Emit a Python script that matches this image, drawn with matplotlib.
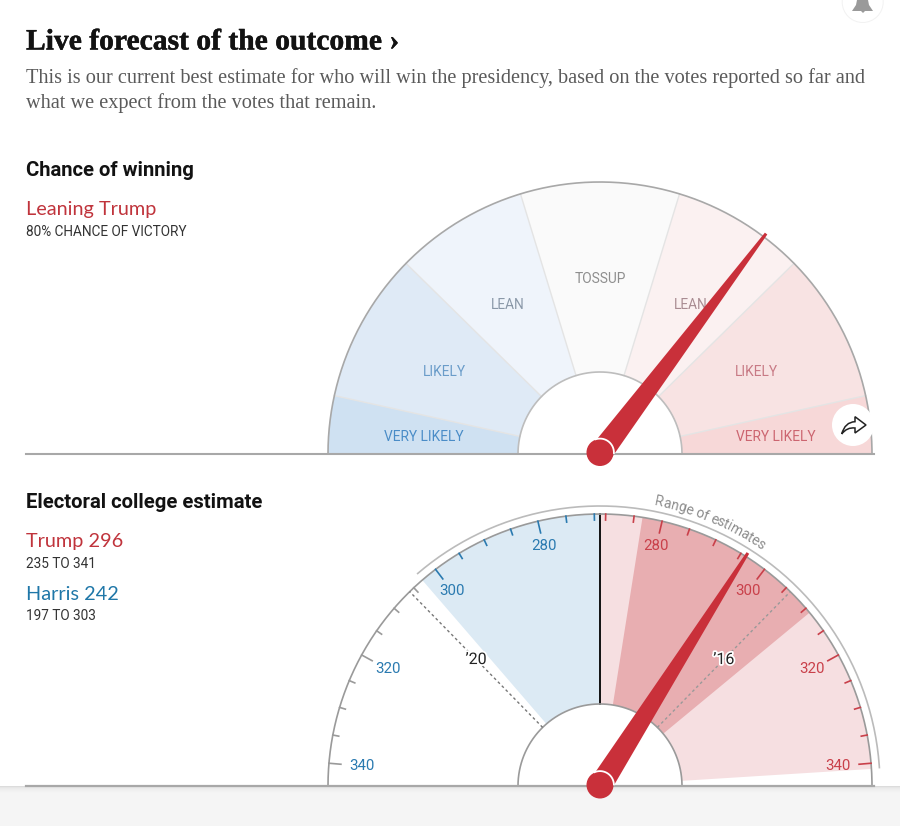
import numpy as np
import matplotlib
matplotlib.use('Agg')
import matplotlib.pyplot as plt
import matplotlib.patheffects as pe
from matplotlib.patches import Circle, PathPatch, Polygon, Rectangle
from matplotlib.path import Path

W, H = 900, 826

# top gauge, band edges in degrees clockwise from the left end
band_edges = [0, 12.4, 44.5, 73, 107, 135.5, 167.6, 180]
band_colors = ['#cfe1f2', '#dfeaf6', '#eff4fb', '#fafafa', '#fbf1f1', '#f8e3e3', '#f7d8d8']
band_labels = ['VERY LIKELY', 'LIKELY', 'LEAN', 'TOSSUP', 'LEAN', 'LIKELY', 'VERY LIKELY']
band_label_colors = ['#4a8cc7', '#6a9cc9', '#8a98a8', '#8e8e8e', '#a98c92', '#c87a85', '#cc6570']
band_label_x = [424, 444, 508, 600, 691, 756, 776]
band_label_y = [437, 372, 305, 279, 305, 372, 437]
chance_needle = 127

# bottom gauge, electoral votes
trump_votes = 296
trump_low = 235
trump_high = 341
harris_votes = 242
harris_low = 197
harris_high = 303
tie_votes = 269
trump_band_low = 276.5
trump_band_high = 311
past_result = 306
vote_ticks = [270, 275, 280, 285, 290, 295, 300, 305, 310, 315, 320, 325, 330, 335, 340]
vote_labels = [280, 300, 320, 340]
vote_label_r = [246, 245, 242, 239]
DEG_PER_VOTE = 1.2

R_OUT = 272
R_IN = 82
GRAY = '#a8a8a8'
RED = '#c9303a'
SANS = 'Roboto'
SERIF = 'Liberation Serif'


def left_theta(v):
    return np.radians(90 - (v - tie_votes) * DEG_PER_VOTE)


def right_theta(v):
    return np.radians(90 + (v - tie_votes) * DEG_PER_VOTE)


def make_gauge(fig, cx, cy):
    # whole circle polar axes, radius in pixels, only the top half gets used
    R = 300
    ax = fig.add_axes([(cx - R) / W, 1 - (cy + R) / H, 2 * R / W, 2 * R / H],
                      projection='polar')
    ax.set_theta_zero_location('W')
    ax.set_theta_direction(-1)
    ax.set_rlim(0, R)
    ax.axis('off')
    ax.patch.set_alpha(0)
    return ax


def arc(ax, r, t0, t1, **kw):
    t = np.linspace(t0, t1, 200)
    ax.plot(t, np.full_like(t, r), solid_capstyle='butt', clip_on=False, **kw)


def sector(ax, t0, t1, color, z=1):
    ax.bar((t0 + t1) / 2, R_OUT - R_IN, width=t1 - t0, bottom=R_IN, color=color,
           linewidth=0, zorder=z)


def needle(ax, theta):
    tip = 276
    base_w, tip_w = 11.7, 1.5
    tip_off = np.arctan(tip_w / tip)
    tip_r = np.hypot(tip, tip_w)
    ax.fill([theta - np.pi / 2, theta - tip_off, theta + tip_off, theta + np.pi / 2],
            [base_w, tip_r, tip_r, base_w], color=RED, linewidth=0, zorder=8,
            clip_on=False)


def hub(ax, cx, cy, theta):
    r = 13.5
    ax.add_patch(Circle((cx, cy), r, facecolor=RED, edgecolor='none', zorder=3))
    t = np.linspace(theta - np.radians(55), theta + np.radians(55), 40)
    ax.plot(cx - (r + 0.4) * np.cos(t), cy - (r + 0.4) * np.sin(t), color='white', lw=1.3, zorder=4)


fig = plt.figure(figsize=(W / 100, H / 100), dpi=100, facecolor='white')

# pixel axes behind the gauges, for page furniture
page = fig.add_axes([0, 0, 1, 1])
page.set_xlim(0, W)
page.set_ylim(H, 0)
page.axis('off')
page.add_patch(Rectangle((0, 787), W, 39, facecolor='#f5f5f5', edgecolor='none'))
for i, c in enumerate(['#dcdcdc', '#e6e6e6', '#ebebeb', '#eeeeee', '#f0f0f0', '#f2f2f2', '#f4f4f4']):
    page.add_patch(Rectangle((0, 786 + i), W, 1, facecolor=c, edgecolor='none'))

page.text(26, 42, 'Live forecast of the outcome ›', family=SERIF, weight='bold', size=21.3,
          color='#121212', va='center',
          path_effects=[pe.withStroke(linewidth=0.3, foreground='#121212')])
page.text(26, 78, 'This is our current best estimate for who will win the presidency, based on the votes reported so far and',
          family=SERIF, size=14.6, color='#5a5a5a', va='center')
page.text(26, 103, 'what we expect from the votes that remain.', family=SERIF, size=14.6,
          color='#5a5a5a', va='center')

page.text(26, 171, 'Chance of winning', family=SANS, weight='bold', size=14.6, color='#121212', va='center')
page.text(26, 210, 'Leaning Trump', family='Lato', size=14.3, color='#c0343c', va='center')
page.text(26, 232, '80% CHANCE OF VICTORY', family=SANS, size=9.8, color='#333333', va='center')

page.text(26, 503, 'Electoral college estimate', family=SANS, weight='bold', size=14.6, color='#121212', va='center')
page.text(26, 542, 'Trump {}'.format(trump_votes), family='Lato', size=14.3, color='#c0343c', va='center')
page.text(26, 564, '{} TO {}'.format(trump_low, trump_high), family=SANS, size=9.8, color='#333333', va='center')
page.text(26, 594, 'Harris {}'.format(harris_votes), family='Lato', size=14.3, color='#1f77a8', va='center')
page.text(26, 616, '{} TO {}'.format(harris_low, harris_high), family=SANS, size=9.8, color='#333333', va='center')

# top gauge
top = make_gauge(fig, 600, 454)
edges = np.radians(band_edges)
for i, c in enumerate(band_colors):
    sector(top, edges[i], edges[i + 1], c)
for e in edges[1:-1]:
    top.plot([e, e], [R_IN, R_OUT], color='#e4e4e4', lw=1.0, zorder=2)
arc(top, R_OUT, 0, np.pi, color=GRAY, lw=1.2, zorder=3)
arc(top, R_IN, 0, np.pi, color='#bdbdbd', lw=1.2, zorder=3)
top.plot([0, 0], [R_IN, R_OUT], color=GRAY, lw=1.2, zorder=3)
top.plot([np.pi, np.pi], [R_IN, R_OUT], color=GRAY, lw=1.2, zorder=3)
needle(top, np.radians(chance_needle))

# LEAN sits under the needle, so these go in the gauge axes
for lab, c, x, y in zip(band_labels, band_label_colors, band_label_x, band_label_y):
    top.text(x / W, 1 - y / H, lab, transform=fig.transFigure, family=SANS, size=9.9, color=c,
             ha='center', va='center', zorder=5)

# bottom gauge
bot = make_gauge(fig, 600, 786)
sector(bot, left_theta(harris_high), left_theta(tie_votes), '#dceaf4')
sector(bot, right_theta(tie_votes), right_theta(trump_high), '#f6dfe1')
sector(bot, right_theta(trump_band_low), right_theta(trump_band_high), '#e8aeb1', z=2)
bot.plot([np.pi / 2, np.pi / 2], [R_IN, R_OUT], color='#111111', lw=1.4, zorder=3)
arc(bot, R_OUT, 0, np.pi, color='#9a9a9a', lw=1.2, zorder=3)
arc(bot, R_IN, 0, np.pi, color='#9a9a9a', lw=1.2, zorder=3)
bot.plot([0, 0], [R_IN, R_OUT], color='#9a9a9a', lw=1.2, zorder=3)
bot.plot([np.pi, np.pi], [R_IN, R_OUT], color='#9a9a9a', lw=1.2, zorder=3)

bot.plot([left_theta(past_result)] * 2, [R_IN, R_OUT], color='#777777', lw=1, ls=(0, (2, 2)), zorder=3)
bot.plot([right_theta(past_result)] * 2, [R_IN, R_OUT], color='#999999', lw=1, ls=(0, (2, 2)), zorder=3)

for v in vote_ticks:
    length = 12 if v in vote_labels else 6
    bot.plot([left_theta(v)] * 2, [R_OUT - length, R_OUT], lw=1.2, zorder=4,
             color='#2a7ab0' if v <= harris_high else '#9a9a9a')
    bot.plot([right_theta(v)] * 2, [R_OUT - length, R_OUT], lw=1.2, zorder=4, color='#c9404a')
for v, r in zip(vote_labels, vote_label_r):
    bot.text(left_theta(v), r, str(v), family=SANS, size=10.8, color='#2a7ab0', ha='center', va='center', zorder=5)
    bot.text(right_theta(v), r, str(v), family=SANS, size=10.8, color='#c9404a', ha='center', va='center', zorder=5)

halo = [pe.withStroke(linewidth=2.5, foreground='white')]
bot.text(left_theta(past_result), 177, '’20', family=SANS, size=11.5, color='#222222',
         ha='center', va='center', zorder=6, path_effects=halo)
bot.text(right_theta(past_result), 177, '’16', family=SANS, size=11.5, color='#222222',
         ha='center', va='center', zorder=6, path_effects=halo)

# range of estimates arc
arc(bot, 280, left_theta(harris_high), right_theta(trump_high), color='#bbbbbb', lw=1.2, zorder=3)
needle(bot, right_theta(trump_votes))

# text bent along the arc, one letter at a time
label = 'Range of estimates'
renderer = fig.canvas.get_renderer()
centers = []
for i, ch in enumerate(label):
    t_p = page.text(0, 0, label[:i + 1], family=SANS, size=10)
    end = t_p.get_window_extent(renderer).width
    t_p.remove()
    t_p = page.text(0, 0, ch, family=SANS, size=10)
    w = t_p.get_window_extent(renderer).width
    t_p.remove()
    centers.append(end - w / 2)
centers = np.array(centers)
angles = np.interp(centers, [centers[0], centers[-1]], [101.8, 123.7])
for ch, a in zip(label, angles):
    if ch != ' ':
        bot.text(np.radians(a), 290, ch, family=SANS, size=10, color='#8c8c8c', ha='center',
                 va='center', rotation=90 - a, rotation_mode='anchor', clip_on=False)

# hubs, baselines and buttons on top
front = fig.add_axes([0, 0, 1, 1])
front.set_xlim(0, W)
front.set_ylim(H, 0)
front.axis('off')
front.patch.set_alpha(0)
front.plot([26, 874], [454, 454], color=GRAY, lw=1.5, zorder=1)
front.plot([26, 874], [786, 786], color=GRAY, lw=1.6, zorder=1)
hub(front, 600, 452.5, np.radians(chance_needle))
hub(front, 600, 785, right_theta(trump_votes))

# share button
front.add_patch(Circle((853, 425), 21, facecolor='white', edgecolor='none', zorder=4))
verts = [(841.7, 434), (845, 422), (855, 421.7), (855, 416.7), (866, 425), (855, 433),
         (855, 428), (847, 427), (841.7, 434)]
codes = [Path.MOVETO, Path.CURVE3, Path.CURVE3, Path.LINETO, Path.LINETO, Path.LINETO,
         Path.LINETO, Path.CURVE3, Path.CURVE3]
front.add_patch(PathPatch(Path(verts, codes), facecolor='none', edgecolor='#222222', lw=1.1, zorder=5))

# bell button, cut off by the top of the page
front.add_patch(Circle((862.7, 2), 21, facecolor='#f2f2f2', edgecolor='none', zorder=4))
front.add_patch(Circle((862.7, 2), 20, facecolor='white', edgecolor='none', zorder=4))
front.add_patch(Polygon([(852, 11), (856, 5), (857, 0), (868, 0), (869, 5), (873, 11), (865, 11),
                         (863, 13), (861, 11)], facecolor='#9a9a9a', edgecolor='none', zorder=5))

fig.savefig('out.png', dpi=100)
